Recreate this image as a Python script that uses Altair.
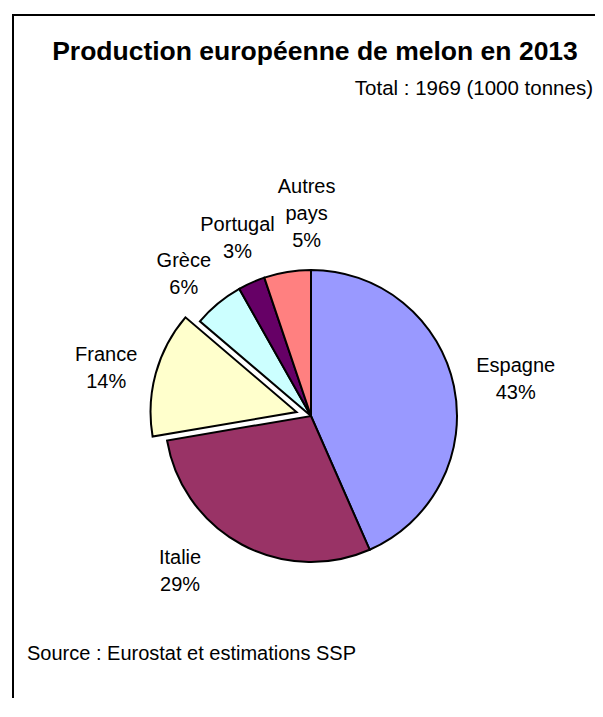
import altair as alt
import pandas as pd

# ---- data (1000 tonnes, 2013) ----
pays = ["Espagne", "Italie", "France", "Grèce", "Portugal", "Autres pays"]
etiquettes = ["Espagne", "Italie", "France", "Grèce", "Portugal", "Autres\npays"]
production = [855, 569, 274, 110, 59, 102]
couleurs = ["#9999FF", "#993366", "#FFFFCC", "#CCFFFF", "#660066", "#FF8080"]

titre = "Production européenne de melon en 2013"
sous_titre = "Total : 1969 (1000 tonnes)"
source = "Source : Eurostat et estimations SSP"

# ---- layout (not data) ----
explode = [0, 0, 15, 0, 0, 0]
nudge_x = [9, -36, -12, 0, 8, 28]
nudge_y = [5, -21, 6, 13, 5, -5]
CX, CY, R, RL, LH = 303, 408, 146, 200, 27
FONT = "Liberation Sans"

df = pd.DataFrame({
    "pays": pays, "etiquette": etiquettes, "production": production,
    "ordre": list(range(len(pays))), "explode": explode,
    "ndx": nudge_x, "ndy": nudge_y,
})

base = (
    alt.Chart(df)
    .transform_joinaggregate(total="sum(production)")
    .transform_window(cum="sum(production)", sort=[alt.SortField("ordre")], frame=[None, 0])
    .transform_calculate(
        t0="2*PI*(datum.cum - datum.production)/datum.total",
        t1="2*PI*datum.cum/datum.total",
        tm="(datum.t0 + datum.t1)/2",
        ax=f"{CX} + datum.explode*sin(datum.tm)",
        ay=f"{CY} - datum.explode*cos(datum.tm)",
        label="datum.etiquette + '\\n' + format(datum.production/datum.total, '.0%')",
        nl="length(split(datum.label, '\\n'))",
        lx=f"{CX} + {RL}*sin(datum.tm) + datum.ndx",
        ly=f"{CY} - {RL}*cos(datum.tm) + datum.ndy - (datum.nl - 1)*{LH}/2",
    )
)

pie = base.mark_arc(radius=R, stroke="black", strokeWidth=2, strokeJoin="miter").encode(
    theta=alt.Theta("t0:Q", scale=None),
    theta2="t1:Q",
    x=alt.X("ax:Q", scale=None, axis=None),
    y=alt.Y("ay:Q", scale=None, axis=None),
    color=alt.Color("pays:N", scale=alt.Scale(domain=pays, range=couleurs), legend=None),
)

labels = base.mark_text(font=FONT, fontSize=20, lineHeight=LH, lineBreak="\n",
                        align="center", baseline="middle", color="black").encode(
    x=alt.X("lx:Q", scale=None, axis=None),
    y=alt.Y("ly:Q", scale=None, axis=None),
    text="label:N",
)

one = pd.DataFrame({"a": [0]})
frame_left = alt.Chart(one).mark_rule(color="black", strokeWidth=2).encode(
    x=alt.value(5), y=alt.value(6), y2=alt.value(720))
frame_top = alt.Chart(one).mark_rule(color="black", strokeWidth=2).encode(
    x=alt.value(4), x2=alt.value(620), y=alt.value(7))

t_title = alt.Chart(pd.DataFrame({"t": [titre]})).mark_text(
    font=FONT, fontSize=26.5, fontWeight="bold", align="center", baseline="alphabetic", color="black"
).encode(text="t:N", x=alt.value(307), y=alt.value(52))
t_total = alt.Chart(pd.DataFrame({"t": [sous_titre]})).mark_text(
    font=FONT, fontSize=20.5, align="right", baseline="alphabetic", color="black"
).encode(text="t:N", x=alt.value(585), y=alt.value(87))
t_source = alt.Chart(pd.DataFrame({"t": [source]})).mark_text(
    font=FONT, fontSize=20, align="left", baseline="alphabetic", color="black"
).encode(text="t:N", x=alt.value(19), y=alt.value(652))

chart = (
    alt.layer(frame_left, frame_top, pie, labels, t_title, t_total, t_source)
    .properties(width=587, height=690, autosize="none", padding=0, background="white")
    .configure_view(stroke=None)
)

chart.save("out.html", embed_options={"renderer": "svg", "actions": False})
